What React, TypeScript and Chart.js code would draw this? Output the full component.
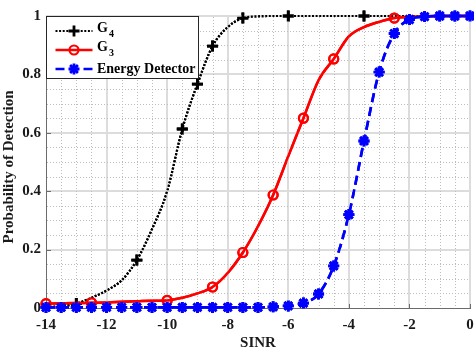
import React, { useEffect, useRef } from 'react';
import { Chart, registerables } from 'chart.js';

Chart.register(...registerables);

// SINR sweep (dB)
const sinrDb = [
  -14, -13.5, -13, -12.5, -12, -11.5, -11, -10.5, -10, -9.5, -9, -8.5, -8, -7.5, -7,
  -6.5, -6, -5.5, -5, -4.5, -4, -3.5, -3, -2.5, -2, -1.5, -1, -0.5, 0,
];

// Probability of detection per detector
const pdG4 = [
  0.003, 0.006, 0.015, 0.035, 0.06, 0.095, 0.164, 0.27, 0.4, 0.613, 0.767, 0.897, 0.962, 0.993, 0.999,
  1, 1, 1, 1, 1, 1, 1, 1, 1, 1, 1, 1, 1, 1,
];
const pdG3 = [
  0.015, 0.016, 0.017, 0.018, 0.019, 0.021, 0.023, 0.025, 0.026, 0.035, 0.05, 0.072, 0.12, 0.19, 0.28,
  0.387, 0.52, 0.65, 0.78, 0.853, 0.93, 0.962, 0.98, 0.993, 0.997, 0.999, 1, 1, 1,
];
const pdEnergy = [
  0.002, 0.002, 0.002, 0.002, 0.002, 0.002, 0.002, 0.002, 0.002, 0.002, 0.002, 0.002, 0.002, 0.002, 0.002,
  0.004, 0.007, 0.017, 0.048, 0.144, 0.32, 0.572, 0.808, 0.94, 0.988, 0.998, 1, 1, 1,
];

// SINR values where markers are shown
const g4MarkerSinr = [-13, -11, -9.5, -9, -8.5, -7.5, -6, -3.5];
const g3MarkerSinr = [-14, -12.5, -10, -8.5, -7.5, -6.5, -5.5, -4.5, -2.5];
const energyMarkerSinr = sinrDb;

// Axis tick labels
const xTickLabels = [-14, -12, -10, -8, -6, -4, -2, 0];
const yTickLabels = [0, 0.2, 0.4, 0.6, 0.8, 1];

const Y_TITLE = 'Probability of Detection';
const FONT = '"Liberation Serif", "Times New Roman", serif';
const MINOR_DIVS = 4;
const AXIS_COLOR = '#6b6b6b';

type Marker = 'cross' | 'circle' | 'star';

type Series = {
  name: string;
  sub?: string;
  values: number[];
  markers: number[];
  color: string;
  dash: number[];
  width: number;
  pointStyle: Marker;
  radius: number;
  pointWidth: number;
};

const series: Series[] = [
  { name: 'G', sub: '4', values: pdG4, markers: g4MarkerSinr, color: '#000000', dash: [2, 1.6], width: 2.2, pointStyle: 'cross', radius: 5.5, pointWidth: 2.8 },
  { name: 'G', sub: '3', values: pdG3, markers: g3MarkerSinr, color: '#ff0000', dash: [], width: 2.5, pointStyle: 'circle', radius: 4.5, pointWidth: 2.2 },
  { name: 'Energy Detector', values: pdEnergy, markers: energyMarkerSinr, color: '#0000ff', dash: [9, 5], width: 2.6, pointStyle: 'star', radius: 5.5, pointWidth: 2.8 },
];

function minorBetween(major: number[]): number[] {
  const out: number[] = [];
  for (let i = 0; i < major.length - 1; i++) {
    const step = (major[i + 1] - major[i]) / MINOR_DIVS;
    for (let k = 1; k < MINOR_DIVS; k++) out.push(major[i] + k * step);
  }
  return out;
}

function strokeMarker(ctx: CanvasRenderingContext2D, style: Marker, x: number, y: number, r: number) {
  ctx.beginPath();
  if (style === 'circle') {
    ctx.arc(x, y, r, 0, Math.PI * 2);
  } else {
    const angles = style === 'cross' ? [0, 90] : [0, 45, 90, 135];
    angles.forEach((deg) => {
      const a = (deg * Math.PI) / 180;
      ctx.moveTo(x - r * Math.cos(a), y - r * Math.sin(a));
      ctx.lineTo(x + r * Math.cos(a), y + r * Math.sin(a));
    });
  }
  ctx.stroke();
}

// Grid, axis lines and inward ticks, painted as filled pixel runs
function drawGrid(chart: any) {
  const ctx: CanvasRenderingContext2D = chart.ctx;
  const area = chart.chartArea;
  const l = Math.round(area.left);
  const r = Math.round(area.right);
  const t = Math.round(area.top);
  const b = Math.round(area.bottom);
  const xs = chart.scales.x;
  const ys = chart.scales.y;
  const px = (v: number) => Math.round(xs.getPixelForValue(v));
  const py = (v: number) => Math.round(ys.getPixelForValue(v));

  ctx.save();
  ctx.globalCompositeOperation = 'source-over';
  ctx.globalAlpha = 1;

  // major grid (solid, light)
  ctx.fillStyle = '#dcdcdc';
  xTickLabels.slice(1).forEach((v) => ctx.fillRect(px(v) - 1, t, 2, b - t));
  yTickLabels.slice(1).forEach((v) => ctx.fillRect(l, py(v) - 1, r - l, 2));

  // minor grid (dotted)
  ctx.fillStyle = '#bdbdbd';
  minorBetween(xTickLabels).forEach((v) => {
    const x = px(v);
    for (let y = t + 1; y < b; y += 3) ctx.fillRect(x, y, 1, 1);
  });
  minorBetween(yTickLabels).forEach((v) => {
    const y = py(v);
    for (let x = l + 1; x < r; x += 3) ctx.fillRect(x, y, 1, 1);
  });

  // axis lines and ticks
  ctx.fillStyle = AXIS_COLOR;
  ctx.fillRect(l, t, 1, b - t + 1);
  ctx.fillRect(l, b, r - l + 1, 1);
  xTickLabels.forEach((v) => ctx.fillRect(px(v), b - 4, 1, 4));
  yTickLabels.forEach((v) => ctx.fillRect(l, py(v), 5, 1));
  ctx.restore();
}

function drawLegendBox(chart: any) {
  const ctx: CanvasRenderingContext2D = chart.ctx;
  const left = Math.round(chart.chartArea.left) + 0.5;
  const top = Math.round(chart.chartArea.top) + 0.5;
  ctx.save();
  ctx.fillStyle = '#ffffff';
  ctx.fillRect(left, top, 152, 62);
  ctx.strokeStyle = '#262626';
  ctx.lineWidth = 1;
  ctx.strokeRect(left, top, 152, 62);

  series.forEach((s, i) => {
    const y = top + 14.5 + i * 19;
    const x1 = left + 9;
    const x2 = left + 46;
    ctx.strokeStyle = s.color;
    ctx.lineWidth = s.width;
    ctx.setLineDash(s.dash);
    ctx.beginPath();
    ctx.moveTo(x1, y);
    ctx.lineTo(x2, y);
    ctx.stroke();
    ctx.setLineDash([]);
    ctx.lineWidth = s.pointWidth;
    strokeMarker(ctx, s.pointStyle, (x1 + x2) / 2, y, s.radius);

    ctx.fillStyle = '#000000';
    ctx.textBaseline = 'middle';
    ctx.textAlign = 'left';
    const tx = left + 50.5;
    ctx.font = `bold 14px ${FONT}`;
    if (s.sub) {
      ctx.fillText(s.name, tx, y - 3);
      const w = ctx.measureText(s.name).width;
      ctx.font = `bold 10px ${FONT}`;
      ctx.fillText(s.sub, tx + w + 1, y + 3.5);
    } else {
      ctx.fillText(s.name, tx, y);
    }
  });
  ctx.restore();
}

// Rotated y-axis title, centred a little below the middle of the plot
function drawYTitle(chart: any) {
  const ctx: CanvasRenderingContext2D = chart.ctx;
  const { top, bottom } = chart.chartArea;
  ctx.save();
  ctx.translate(9, (top + bottom) / 2 + 5);
  ctx.rotate(-Math.PI / 2);
  ctx.fillStyle = '#1a1a1a';
  ctx.font = `bold 15px ${FONT}`;
  ctx.textAlign = 'center';
  ctx.textBaseline = 'middle';
  ctx.fillText(Y_TITLE, 0, 0);
  ctx.restore();
}

// Grid and axes go under the curves: paint them, let each dataset controller
// paint its line and markers again on top, then add the boxed legend.
const plotDecor = {
  id: 'plotDecor',
  afterDatasetsDraw(chart: any) {
    drawGrid(chart);
    const metas = chart.getSortedVisibleDatasetMetas();
    for (let i = metas.length - 1; i >= 0; i--) {
      metas[i].controller.draw();
    }
    drawLegendBox(chart);
    drawYTitle(chart);
  },
};

export default function App() {
  const canvasRef = useRef<HTMLCanvasElement | null>(null);

  useEffect(() => {
    const canvas = canvasRef.current;
    if (!canvas) return;

    const datasets = series.map((s, idx) => ({
      label: s.sub ? s.name + s.sub : s.name,
      data: s.values.map((v, i) => ({ x: sinrDb[i], y: v })),
      borderColor: s.color,
      borderWidth: s.width,
      borderDash: s.dash,
      cubicInterpolationMode: 'monotone',
      pointStyle: s.pointStyle,
      pointRadius: sinrDb.map((x) => (s.markers.includes(x) ? s.radius : 0)),
      pointBorderWidth: s.pointWidth,
      pointBorderColor: s.color,
      pointBackgroundColor: 'rgba(0,0,0,0)',
      fill: false,
      clip: false,
      order: series.length - idx,
    }));

    const labelFont = { family: FONT, size: 15, weight: 'bold' };

    const chart = new Chart(canvas, {
      type: 'line',
      data: { datasets },
      options: {
        responsive: false,
        animation: false,
        layout: { autoPadding: false, padding: { top: 16, right: 4, left: 0, bottom: 0 } },
        plugins: { legend: { display: false }, tooltip: { enabled: false } },
        scales: {
          x: {
            type: 'linear',
            min: -14,
            max: 0,
            afterBuildTicks: (scale: any) => {
              scale.ticks = xTickLabels.map((value) => ({ value }));
            },
            afterFit: (scale: any) => {
              scale.height = 40;
              scale.paddingLeft = 0;
              scale.paddingRight = 0;
            },
            ticks: {
              autoSkip: false,
              maxRotation: 0,
              padding: 8,
              color: '#1a1a1a',
              font: labelFont,
              callback: (v: any) => String(v),
            },
            grid: { display: false, drawTicks: false },
            border: { display: false },
            title: {
              display: true,
              text: 'SINR',
              color: '#1a1a1a',
              font: labelFont,
              padding: { top: 0, bottom: -4 },
            },
          },
          y: {
            type: 'linear',
            min: 0,
            max: 1,
            afterBuildTicks: (scale: any) => {
              scale.ticks = yTickLabels.map((value) => ({ value }));
            },
            afterFit: (scale: any) => {
              scale.width = 46;
              scale.paddingTop = 0;
              scale.paddingBottom = 0;
            },
            ticks: {
              autoSkip: false,
              padding: 5,
              color: '#1a1a1a',
              font: labelFont,
              callback: (v: any) => String(v),
            },
            grid: { display: false, drawTicks: false },
            border: { display: false },
            title: { display: false },
          },
        },
      },
      plugins: [plotDecor],
    } as any);

    return () => chart.destroy();
  }, []);

  return (
    <div style={{ position: 'absolute', left: 0, top: 0, width: 474, height: 348, background: '#ffffff' }}>
      <canvas ref={canvasRef} width={474} height={348} style={{ display: 'block' }} />
    </div>
  );
}
